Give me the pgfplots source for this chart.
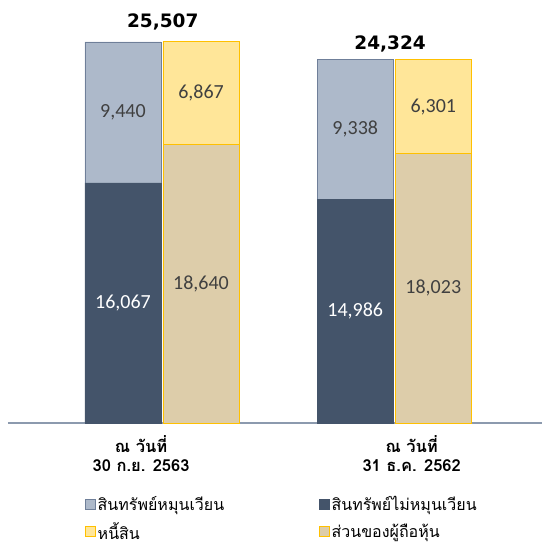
\documentclass[border=0pt]{standalone}
\usepackage{pgfplots}
\pgfplotsset{compat=1.18}
\usepackage{fontspec}
\setmainfont{Carlito}
\newfontfamily\thai[Script=Thai]{Loma}
\newfontfamily\totfont{DejaVu Sans}
\definecolor{darkb}{HTML}{44546A}
\definecolor{lightb}{HTML}{ADB9CA}
\definecolor{lightbd}{HTML}{6F7F99}
\definecolor{yel}{HTML}{FFE699}
\definecolor{gold}{HTML}{FFC000}
\definecolor{tanc}{HTML}{DDCDAA}
\definecolor{axisc}{HTML}{8C9AAE}
\definecolor{lab}{HTML}{404040}
\tikzset{vlab/.style={text=lab, font=\fontsize{20}{24}\selectfont}}
\begin{document}
\begin{tikzpicture}[x=1pt,y=1pt]
\useasboundingbox (0,0) rectangle (543,544);
\pgfplotsset{
  common/.style={scale only axis, width=534pt, height=418.3pt,
    at={(8pt,121pt)}, anchor=south west,
    xmin=-0.663, xmax=1.636, ymin=0, ymax=28000, clip=false},
}
\begin{axis}[common, ybar stacked, bar width=0.3276,
  axis x line*=bottom, axis y line=none,
  x axis line style={draw=axisc, line width=1.2pt, -},
  xtick={-0.09,1.075}, major tick length=0pt,
  xticklabels={{ณ วันที่\\30 ก.ย. 2563},{ณ วันที่\\31 ธ.ค. 2562}},
  xticklabel style={font=\thai\bfseries\fontsize{16.5}{18.5}\selectfont, align=center, text=black, yshift=-9pt},
  legend columns=2,
  legend cell align=left,
  legend style={draw=none, fill=none, anchor=north west, at={(0.139,-0.165)},
    font=\thai\fontsize{16}{19}\selectfont, row sep=6pt,
    /tikz/every even column/.append style={column sep=93pt}},
  legend image code/.code={\draw[#1,line width=0.8pt] (0pt,-5pt) rectangle (9.5pt,4.5pt);},
]
\addplot[fill=darkb, draw=darkb, forget plot] coordinates {(-0.168,16067) (0.832,14986)};
\addplot[fill=lightb, draw=lightbd, line width=0.8pt, forget plot] coordinates {(-0.168,9440) (0.832,9338)};
\addlegendimage{fill=lightb, draw=lightbd}
\addlegendentry{สินทรัพย์หมุนเวียน}
\addlegendimage{fill=darkb, draw=darkb}
\addlegendentry{สินทรัพย์ไม่หมุนเวียน}
\addlegendimage{fill=yel, draw=gold}
\addlegendentry{หนี้สิน}
\addlegendimage{fill=tanc, draw=gold}
\addlegendentry{ส่วนของผู้ถือหุ้น}
\end{axis}
\begin{axis}[common, ybar stacked, bar width=0.3276, hide axis]
\addplot[fill=tanc, draw=gold, line width=0.9pt] coordinates {(0.168,18640) (1.168,18023)};
\addplot[fill=yel, draw=gold, line width=0.9pt] coordinates {(0.168,6867) (1.168,6301)};
\end{axis}
\begin{axis}[common, hide axis]
\node[vlab, text=white] at (axis cs:-0.168,8033.5) {16,067};
\node[vlab] at (axis cs:-0.168,20787) {9,440};
\node[vlab, text=white] at (axis cs:0.832,7493) {14,986};
\node[vlab] at (axis cs:0.832,19655) {9,338};
\node[vlab] at (axis cs:0.168,9320) {18,640};
\node[vlab] at (axis cs:0.168,22073.5) {6,867};
\node[vlab] at (axis cs:1.168,9011.5) {18,023};
\node[vlab] at (axis cs:1.168,21173.5) {6,301};
\node[anchor=base, font=\totfont\bfseries\fontsize{18.5}{22}\selectfont] at (axis cs:0.003,25507) [yshift=14pt] {25,507};
\node[anchor=base, font=\totfont\bfseries\fontsize{18.5}{22}\selectfont] at (axis cs:0.982,24324) [yshift=10pt] {24,324};
\end{axis}
\end{tikzpicture}
\end{document}
